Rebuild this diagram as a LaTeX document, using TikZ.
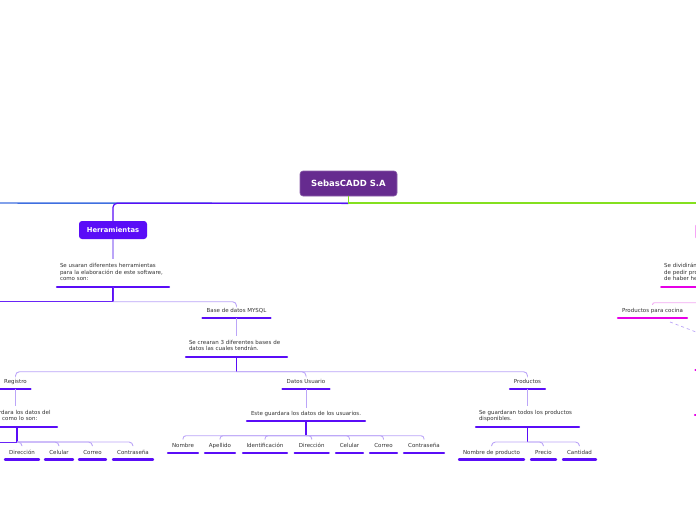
\documentclass[tikz,border=0pt]{standalone}
\usepackage{fontspec}
\setmainfont{DejaVu Sans}
\definecolor{sebaspurple}{HTML}{662B8F}
\definecolor{sebasviolet}{HTML}{5A0DF7}
\definecolor{sebaslilac}{HTML}{BBA5F8}
\definecolor{sebasblue}{HTML}{3F6FE0}
\definecolor{sebasgreen}{HTML}{84E01F}
\definecolor{sebasmagenta}{HTML}{E600E6}
\definecolor{sebaspink}{HTML}{F2AAF2}
\definecolor{sebastext}{HTML}{333333}

\tikzset{
  topic/.style={font=\fontsize{5.5}{6.5}\selectfont, text=sebastext, inner xsep=0pt, inner ysep=3.5pt, text height=4.2pt, text depth=1.5pt, anchor=south},
  note/.style={font=\fontsize{5.5}{6.5}\selectfont, text=sebastext, align=left, inner xsep=4pt, inner ysep=4pt, anchor=south, execute at end node=\strut},
  uline/.style={line width=2.4pt, line cap=round, sebasviolet},
  ulinem/.style={uline, sebasmagenta},
  lnk/.style={sebaslilac, line width=0.9pt, rounded corners=4pt},
  stub/.style={sebasviolet, line width=1.6pt},
}

\begin{document}
\begin{tikzpicture}[x=1pt,y=-1pt]
\useasboundingbox (0,0) rectangle (696,520);
\clip (0,0) rectangle (696,520);
\fill[white] (0,0) rectangle (696,520);

\node[fill=sebaspurple, draw=sebaspurple!75!white, line width=0.6pt, rounded corners=3pt, text=white, font=\fontsize{8.5}{10}\selectfont\bfseries, minimum width=97pt, minimum height=25pt, inner sep=0pt] (root) at (348.5,183.5) {SebasCADD S.A};
\node[fill=sebasviolet, rounded corners=3pt, text=white, font=\fontsize{6.8}{8}\selectfont\bfseries, minimum width=68pt, minimum height=18pt, inner sep=0pt] (herr) at (113,230) {Herramientas};
\node[fill=sebasmagenta, rounded corners=3pt, minimum width=60pt, minimum height=17pt, anchor=west] (catbox) at (695.3,231.5) {};

\coordinate (offbranch) at (-40,203);
\coordinate (offgreen) at (740,203);
\coordinate (offtool) at (-40,301.7);
\coordinate (offfield) at (-40,442);
\coordinate (relend) at (760,356.6);
\coordinate (tickA) at (695.5,370);
\coordinate (tickB) at (695,415);

\node[note, text width=106pt] (usaran) at (113,286.7) {Se usaran diferentes herramientas\\para la elaboración de este software,\\como son:};
\node[topic, minimum width=70pt] (mysql) at (236.5,318) {Base de datos MYSQL};
\node[note, text width=95pt] (crearan) at (236.5,356.7) {Se crearan 3 diferentes bases de\\datos las cuales tendrán.};

\node[topic, minimum width=32pt] (registro) at (15.5,388.7) {Registro};
\node[topic, minimum width=49pt] (datos) at (306,388.7) {Datos Usuario};
\node[topic, minimum width=37pt] (productos) at (527.5,388.7) {Productos};

\node[note, text width=74pt] (guardar) at (17,427) {Se guardara los datos del\\usuario como lo son:};
\node[topic, minimum width=120pt] (usuarios) at (306,420.7) {Este guardara los datos de los usuarios.};
\node[note, text width=97pt] (prodnote) at (527.5,427) {Se guardaran todos los productos\\disponibles.};

\node[topic, minimum width=36pt] (regdir) at (22,459.3) {Dirección};
\node[topic, minimum width=30pt] (regcel) at (59,459.3) {Celular};
\node[topic, minimum width=29pt] (regcor) at (92.5,459.3) {Correo};
\node[topic, minimum width=42pt] (regcon) at (133,459.3) {Contraseña};

\node[topic, minimum width=32pt] (usunom) at (183,452.7) {Nombre};
\node[topic, minimum width=32pt] (usuape) at (220,452.7) {Apellido};
\node[topic, minimum width=46pt] (usuide) at (265,452.7) {Identificación};
\node[topic, minimum width=36pt] (usudir) at (311.7,452.7) {Dirección};
\node[topic, minimum width=29pt] (usucel) at (349.5,452.7) {Celular};
\node[topic, minimum width=29pt] (usucor) at (383.5,452.7) {Correo};
\node[topic, minimum width=42pt] (usucon) at (424,452.7) {Contraseña};

\node[topic, minimum width=67pt] (prodnom) at (491.5,459.3) {Nombre de producto};
\node[topic, minimum width=27pt] (prodpre) at (543.5,459.3) {Precio};
\node[topic, minimum width=35pt] (prodcan) at (579.5,459.3) {Cantidad};

\node[note, text width=120pt, anchor=south west] (sedivid) at (660,286.7) {Se dividirán en\\de pedir productos\\de haber hecho};
\node[topic, minimum width=71pt] (cocina) at (652.5,318) {Productos para cocina};

\foreach \n in {usaran,mysql,crearan,registro,datos,productos,guardar,usuarios,prodnote,regdir,regcel,regcor,regcon,usunom,usuape,usuide,usudir,usucel,usucor,usucon,prodnom,prodpre,prodcan}
  \draw[uline] ([xshift=1.2pt]\n.south west) -- ([xshift=-1.2pt]\n.south east);
\foreach \n in {sedivid,cocina}
  \draw[ulinem] ([xshift=1.2pt]\n.south west) -- ([xshift=-1.2pt]\n.south east);
\draw[ulinem] (tickA) -- ++(40,0);
\draw[ulinem] (tickB) -- ++(40,0);

\draw[sebasblue, line width=1.4pt] ([yshift=-7pt]root.south) -- (offbranch);
\draw[sebasviolet, line width=1.2pt, rounded corners=4pt] ([yshift=-7pt]root.south) -| (herr.north);
\draw[sebasgreen, line width=1.4pt] (root.south) |- (offgreen);

\draw[lnk, line width=1.4pt] (herr.south) -- (usaran.north);
\draw[stub] (usaran.south) -- ++(0,15);
\draw[sebasviolet!85!sebaslilac, line width=1pt] (usaran.south) |- (offtool);
\draw[lnk] ([yshift=-15pt]usaran.south) -| (mysql.north);

\draw[lnk, line width=1.2pt] (mysql.south) -- (crearan.north);
\draw[stub] (crearan.south) -- ++(0,15);
\foreach \c in {registro,datos,productos}
  \draw[lnk] ([yshift=-15pt]crearan.south) -| (\c.north);

\draw[lnk] (registro.south) -- (registro.south |- guardar.north);
\draw[stub] (guardar.south) -- ++(0,15);
\draw[sebasviolet!85!sebaslilac, line width=1pt] ([yshift=-15pt]guardar.south) -- (offfield);
\foreach \c in {regdir,regcel,regcor,regcon}
  \draw[lnk] ([yshift=-15pt]guardar.south) -| (\c.north);

\draw[lnk] (datos.south) -- (usuarios.north);
\draw[stub] (usuarios.south) -- ++(0,15);
\foreach \c in {usunom,usuape,usuide,usudir,usucel,usucor,usucon}
  \draw[lnk, rounded corners=3pt] ([yshift=-15pt]usuarios.south) -| (\c.north);

\draw[lnk] (productos.south) -- (prodnote.north);
\draw[stub] (prodnote.south) -- ++(0,15);
\foreach \c in {prodnom,prodpre,prodcan}
  \draw[lnk] ([yshift=-15pt]prodnote.south) -| (\c.north);

\draw[stub, sebasmagenta] (sedivid.south) -- ++(0,16);
\draw[sebaspink, line width=0.9pt, rounded corners=2pt] ([yshift=-16pt]sedivid.south) -| (cocina.north);
\draw[sebaslilac, dash pattern=on 3pt off 3pt, line width=0.7pt] ([xshift=17.5pt,yshift=-4pt]cocina.south) -- (relend);
\end{tikzpicture}
\end{document}
